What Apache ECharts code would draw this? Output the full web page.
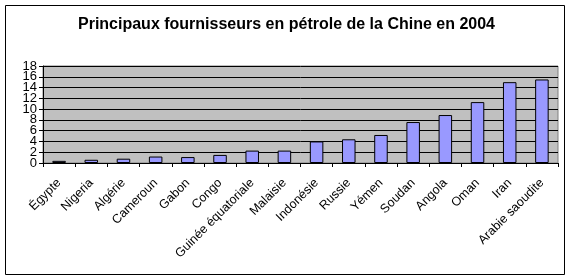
<!DOCTYPE html>
<html>
<head>
<meta charset="utf-8">
<script src="https://cdn.jsdelivr.net/npm/echarts@6/dist/echarts.min.js"></script>
<style>
  html, body { margin: 0; padding: 0; background: #ffffff; }
  #chart { width: 573px; height: 280px; }
</style>
</head>
<body>
<div id="chart"></div>
<script>
// Principaux fournisseurs de pétrole de la Chine, 2004 (millions de tonnes)
const categories = ['Égypte', 'Nigeria', 'Algérie', 'Cameroun', 'Gabon', 'Congo',
  'Guinée équatoriale', 'Malaisie', 'Indonésie', 'Russie', 'Yémen', 'Soudan',
  'Angola', 'Oman', 'Iran', 'Arabie saoudite'];
const values = [0.4, 0.6, 0.8, 1.2, 1.1, 1.5, 2.3, 2.3, 4.0, 4.4, 5.2, 7.6, 8.9, 11.3, 15.0, 15.5];
const yTicks = [0, 2, 4, 6, 8, 10, 12, 14, 16, 18];

const FONT = 'Liberation Sans, Arial, sans-serif';
const yMin = yTicks[0];
const yMax = yTicks[yTicks.length - 1];
const yStep = yTicks[1] - yTicks[0];

// The tick labels sit closer together than their glyph height, so they are
// split over two overlaid value axes (alternate ticks each) to keep them all.
function yAxisLayer(parity, primary) {
  return {
    type: 'value',
    position: 'left',
    min: yMin, max: yMax, interval: yStep,
    axisLine: { show: primary, lineStyle: { color: '#000', width: 1 } },
    axisTick: { show: primary, length: 4, lineStyle: { color: '#000' } },
    splitLine: { show: primary, lineStyle: { color: '#000', width: 1 } },
    axisLabel: {
      margin: 6, showMinLabel: true, showMaxLabel: true, hideOverlap: false,
      fontFamily: FONT, fontSize: 13, color: '#000',
      formatter: v => (Math.round(v / yStep) % 2 === parity ? String(v) : '')
    }
  };
}

const chart = echarts.init(document.getElementById('chart'), null, { renderer: 'canvas' });

chart.setOption({
  animation: false,
  backgroundColor: '#ffffff',
  title: {
    text: 'Principaux fournisseurs en pétrole de la Chine en 2004',
    left: 'center',
    top: 12,
    textStyle: { fontFamily: FONT, fontSize: 16, fontWeight: 'bold', color: '#000' }
  },
  graphic: [{
    type: 'rect',
    shape: { x: 5.5, y: 5.5, width: 559, height: 269 },
    style: { fill: 'none', stroke: '#000', lineWidth: 1 },
    silent: true
  }],
  grid: {
    left: 43, right: 15, top: 66, bottom: 117,
    show: true, backgroundColor: '#c0c0c0', borderColor: '#808080', borderWidth: 1
  },
  xAxis: {
    type: 'category',
    data: categories,
    axisLine: { lineStyle: { color: '#000', width: 1 } },
    axisTick: { show: true, alignWithLabel: false, length: 4, lineStyle: { color: '#000' } },
    axisLabel: {
      rotate: 45, interval: 0, margin: 18,
      fontFamily: FONT, fontSize: 12.5, color: '#000'
    }
  },
  yAxis: [yAxisLayer(0, true), yAxisLayer(1, false)],
  series: [{
    type: 'bar',
    yAxisIndex: 0,
    data: values,
    barWidth: '42%',
    itemStyle: { color: '#9999ff', borderColor: '#000', borderWidth: 1 }
  }]
});
</script>
</body>
</html>
